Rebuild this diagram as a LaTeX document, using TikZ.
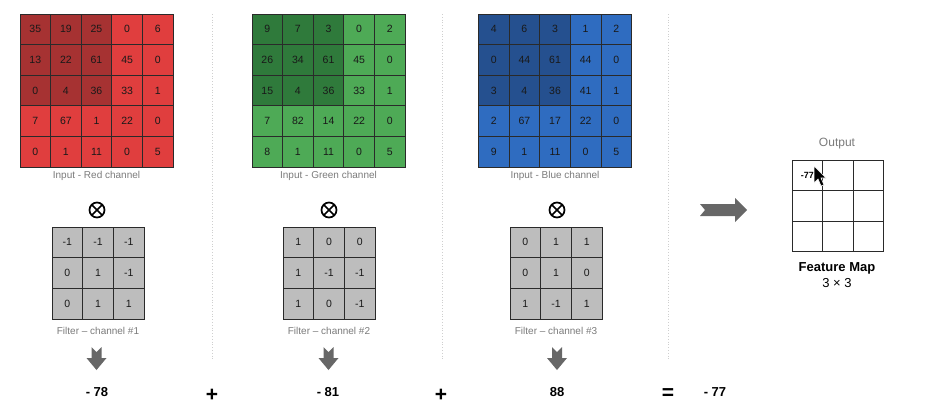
\documentclass[tikz,border=0pt]{standalone}
\usepackage{fontspec}
\setmainfont{Liberation Sans}
\definecolor{redL}{HTML}{E03E3E}
\definecolor{redD}{HTML}{A63232}
\definecolor{greenL}{HTML}{4EAA56}
\definecolor{greenD}{HTML}{2F7A3B}
\definecolor{blueL}{HTML}{2F6CC0}
\definecolor{blueD}{HTML}{25508F}
\definecolor{filt}{HTML}{BDBDBD}
\definecolor{gridline}{HTML}{2A2A2A}
\definecolor{labelgray}{HTML}{7A7A7A}
\definecolor{sepgray}{HTML}{CFCFCF}
\definecolor{arrowgray}{HTML}{676767}
\tikzset{
  cell/.style={draw=gridline, line width=0.8pt, minimum size=30.6pt, inner sep=0pt,
    font=\fontsize{10.5}{12}\selectfont, text=black!90},
  fcell/.style={cell, fill=filt, minimum size=30.7pt},
  ocell/.style={cell, minimum size=30.5pt, font=\bfseries\fontsize{9}{11}\selectfont},
  caption/.style={font=\fontsize{10}{12}\selectfont, text=labelgray},
  result/.style={font=\bfseries\fontsize{13}{15}\selectfont},
  oper/.style={font=\bfseries\fontsize{21}{22}\selectfont},
  sep/.style={draw=sepgray, line width=0.8pt, dotted},
  blockarrow/.style={fill=arrowgray, draw=none},
  otimesmark/.style={circle, draw=black, line width=1.7pt, minimum size=15pt, inner sep=0pt,
    path picture={\draw[line width=1.5pt] (path picture bounding box.south west) -- (path picture bounding box.north east)
      (path picture bounding box.north west) -- (path picture bounding box.south east);}},
}
\begin{document}
\begin{tikzpicture}[x=1pt,y=-1pt]
\useasboundingbox (0,0) rectangle (926,416);
% separators
\coordinate (s1t) at (212,14); \coordinate (s1b) at (212,360);
\coordinate (s2t) at (442,14); \coordinate (s2b) at (442,360);
\coordinate (s3t) at (668,14); \coordinate (s3b) at (668,360);
\draw[sep] (s1t) -- (s1b);
\draw[sep] (s2t) -- (s2b);
\draw[sep] (s3t) -- (s3b);
% input grids
\foreach \nm/\left/\cl/\cd/\vals in {
  R/20/redL/redD/{35,19,25,0,6,13,22,61,45,0,0,4,36,33,1,7,67,1,22,0,0,1,11,0,5},
  G/252/greenL/greenD/{9,7,3,0,2,26,34,61,45,0,15,4,36,33,1,7,82,14,22,0,8,1,11,0,5},
  B/478.5/blueL/blueD/{4,6,3,1,2,0,44,61,44,0,3,4,36,41,1,2,67,17,22,0,9,1,11,0,5}} {
  \foreach \v [count=\i from 0] in \vals {
    \pgfmathtruncatemacro{\rr}{int(\i/5)}
    \pgfmathtruncatemacro{\cc}{mod(\i,5)}
    \pgfmathtruncatemacro{\dk}{(\rr<3)&&(\cc<3)}
    \ifnum\dk=1 \def\fc{\cd}\else\def\fc{\cl}\fi
    \node[cell, fill=\fc] (\nm-\i) at ({\left+15.3+30.6*\cc},{14+15.3+30.6*\rr}) {\v};
  }
}
\node[caption] (capR) at (96.5,176) {Input - Red channel};
\node[caption] (capG) at (328.5,176) {Input - Green channel};
\node[caption] (capB) at (555,176) {Input - Blue channel};
% otimes
\node[otimesmark] (xR) at (97,210) {};
\node[otimesmark] (xG) at (329,210) {};
\node[otimesmark] (xB) at (557,210) {};
% filters
\foreach \nm/\left/\vals in {
  FR/52/{-1,-1,-1,0,1,-1,0,1,1},
  FG/283/{1,0,0,1,-1,-1,1,0,-1},
  FB/510/{0,1,1,0,1,0,1,-1,1}} {
  \foreach \v [count=\i from 0] in \vals {
    \pgfmathtruncatemacro{\rr}{int(\i/3)}
    \pgfmathtruncatemacro{\cc}{mod(\i,3)}
    \node[fcell] (\nm-\i) at ({\left+15.35+30.7*\cc},{227+15.35+30.7*\rr}) {\v};
  }
}
\node[caption] (fcapR) at (98,331) {Filter -- channel \#1};
\node[caption] (fcapG) at (329,331) {Filter -- channel \#2};
\node[caption] (fcapB) at (556,331) {Filter -- channel \#3};
% down arrows
\foreach \cx in {96.5,328.5,557} {
  \fill[blockarrow] (\cx-5,347) -- (\cx,352) -- (\cx+5,347) -- (\cx+5,358) -- (\cx+10,358)
    -- (\cx,370) -- (\cx-10,358) -- (\cx-5,358) -- cycle;
}
% results
\node[result] (vR) at (97,392) {- 78};
\node[oper] (p1) at (212,395) {+};
\node[result] (vG) at (328,392) {- 81};
\node[oper] (p2) at (441,395) {+};
\node[result] (vB) at (557,392) {88};
\node[oper] (eq) at (668,394) {=};
\node[result] (vS) at (715,392) {- 77};
% right arrow
\fill[blockarrow] (700,204) -- (705,210) -- (700,216) -- (735,216) -- (735,222) -- (747,210)
  -- (735,198) -- (735,204) -- cycle;
% output grid
\node[font=\fontsize{12}{14}\selectfont, text=labelgray] (outcap) at (837,144) {Output};
\foreach \i in {0,...,8} {
  \pgfmathtruncatemacro{\rr}{int(\i/3)}
  \pgfmathtruncatemacro{\cc}{mod(\i,3)}
  \node[ocell] (O-\i) at ({792+15.25+30.5*\cc},{160+15.25+30.5*\rr}) {};
}
\node[font=\bfseries\fontsize{9}{11}\selectfont] (o77) at (O-0) {-77};
\node[font=\bfseries\fontsize{13}{15}\selectfont] (fm) at (837,268) {Feature Map};
\node[font=\fontsize{13}{15}\selectfont] (fmsz) at (837,283) {3 × 3};
% mouse pointer
\begin{scope}[shift={(814,166)}]
\filldraw[fill=black, draw=white, line width=0.6pt] (0,0) -- (0,17) -- (4,13) -- (7,20)
  -- (10,19) -- (7,12) -- (12,12) -- cycle;
\end{scope}
\end{tikzpicture}
\end{document}
